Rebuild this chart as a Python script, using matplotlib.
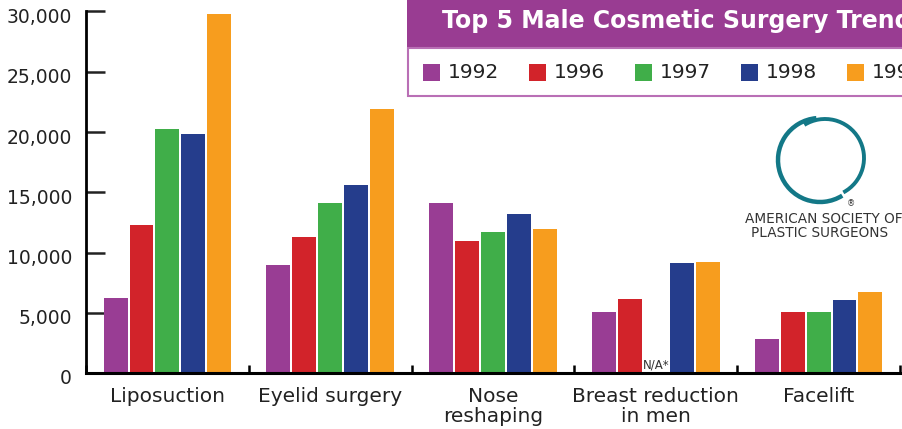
import matplotlib
matplotlib.use('Agg')
import matplotlib.pyplot as plt
import matplotlib.patches as patches
import matplotlib.transforms as mtransforms
import numpy as np

plt.rcParams['font.family'] = ['DejaVu Sans Condensed', 'DejaVu Sans']

procedures = ['Liposuction', 'Eyelid surgery', 'Nose\nreshaping', 'Breast reduction\nin men', 'Facelift']
years = ['1992', '1996', '1997', '1998', '1999']
colors = ['#993d94', '#d2232a', '#40ae49', '#253d8c', '#f79d1e']

v1992 = [6200, 9000, 14100, 5100, 2850]
v1996 = [12250, 11300, 10950, 6100, 5100]
v1997 = [20250, 14100, 11700, np.nan, 5100]
v1998 = [19850, 15600, 13200, 9100, 6050]
v1999 = [29800, 21900, 11950, 9200, 6750]
series = [v1992, v1996, v1997, v1998, v1999]

yticks = [0, 5000, 10000, 15000, 20000, 25000, 30000]

W, H = 902, 429
fig = plt.figure(figsize=(W / 100, H / 100), dpi=100)
ax = fig.add_axes([86 / W, 56 / H, (W - 86) / W, (H - 56 - 11.5) / H])

x = np.arange(len(procedures))
step = 26 / 163.3
width = 24 / 163.3
for j, (yr, vals) in enumerate(zip(years, series)):
    ax.bar(x + (j - 2) * step, vals, width=width, color=colors[j], label=yr, zorder=2)

# N/A marker for missing 1997 breast reduction
ax.text(3, 150, 'N/A*', ha='center', va='bottom', fontsize=8.5, color='#333333', zorder=3)

ax.set_xlim(-0.5, 4.5 + 2 / 163.3)
ax.set_ylim(0, 30000)
for s in ['top', 'right']:
    ax.spines[s].set_visible(False)
ax.spines['left'].set_linewidth(2)
ax.spines['bottom'].set_linewidth(2.2)
ax.spines['bottom'].set_zorder(4)

ax.set_yticks(yticks)
ax.set_yticklabels([f'{v:,}' for v in yticks])
ax.tick_params(axis='y', direction='in', length=14, width=1.8, pad=10, labelsize=13.5, colors='#222222')
ax.set_xticks(x)
ax.set_xticklabels(procedures, linespacing=1.1)
ax.tick_params(axis='x', which='major', length=0, pad=10, labelsize=14.5, colors='#222222')
ax.set_xticks(np.arange(len(procedures) + 1) - 0.5, minor=True)
ax.tick_params(axis='x', which='minor', direction='in', length=6, width=1.8)

off = mtransforms.ScaledTranslation(0, -4 / 100, fig.dpi_scale_trans)
for lab in ax.get_yticklabels():
    lab.set_transform(lab.get_transform() + off)

# title band
fig.patches.append(patches.Rectangle((407 / W, (H - 48) / H), (W - 407) / W, 48 / H,
                                     transform=fig.transFigure, facecolor='#993c92',
                                     edgecolor='none', zorder=5))
fig.text(442 / W, (H - 21) / H, 'Top 5 Male Cosmetic Surgery Trends', color='white',
         fontsize=17, fontweight='bold', ha='left', va='center', zorder=6)

# legend box
fig.patches.append(patches.Rectangle((408 / W, (H - 96) / H), (W - 406) / W, 48 / H,
                                     transform=fig.transFigure, facecolor='white',
                                     edgecolor='#b96fb5', linewidth=1.5, zorder=5))
for i, yr in enumerate(years):
    x0 = 423 + 106 * i
    fig.patches.append(patches.Rectangle((x0 / W, (H - 81) / H), 17 / W, 17 / H,
                                         transform=fig.transFigure, facecolor=colors[i],
                                         edgecolor='none', zorder=6))
    fig.text((x0 + 25) / W, (H - 72) / H, yr, fontsize=14.5, color='#222222',
             ha='left', va='center', zorder=6)

# society logo, drawn in pixel coordinates (y up)
lax = fig.add_axes([770 / W, (H - 210) / H, 104 / W, 100 / H])
lax.set_xlim(770, 874)
lax.set_ylim(H - 210, H - 110)
lax.axis('off')
teal = '#137887'
lax.add_patch(patches.Arc((820, H - 160), 84, 84, theta1=95, theta2=302, color=teal, linewidth=3.2))
lax.add_patch(patches.Arc((825, H - 158), 78, 78, theta1=-62, theta2=122, color=teal, linewidth=2.8))
lax.text(851, H - 204, '®', fontsize=6, color='#333333', ha='center', va='center')
fig.text(824 / W, (H - 219) / H, 'AMERICAN SOCIETY OF', fontsize=9.8, color='#333333',
         ha='center', va='center')
fig.text(820 / W, (H - 233) / H, 'PLASTIC SURGEONS', fontsize=9.8, color='#333333',
         ha='center', va='center')

fig.savefig('out.png', dpi=100)
